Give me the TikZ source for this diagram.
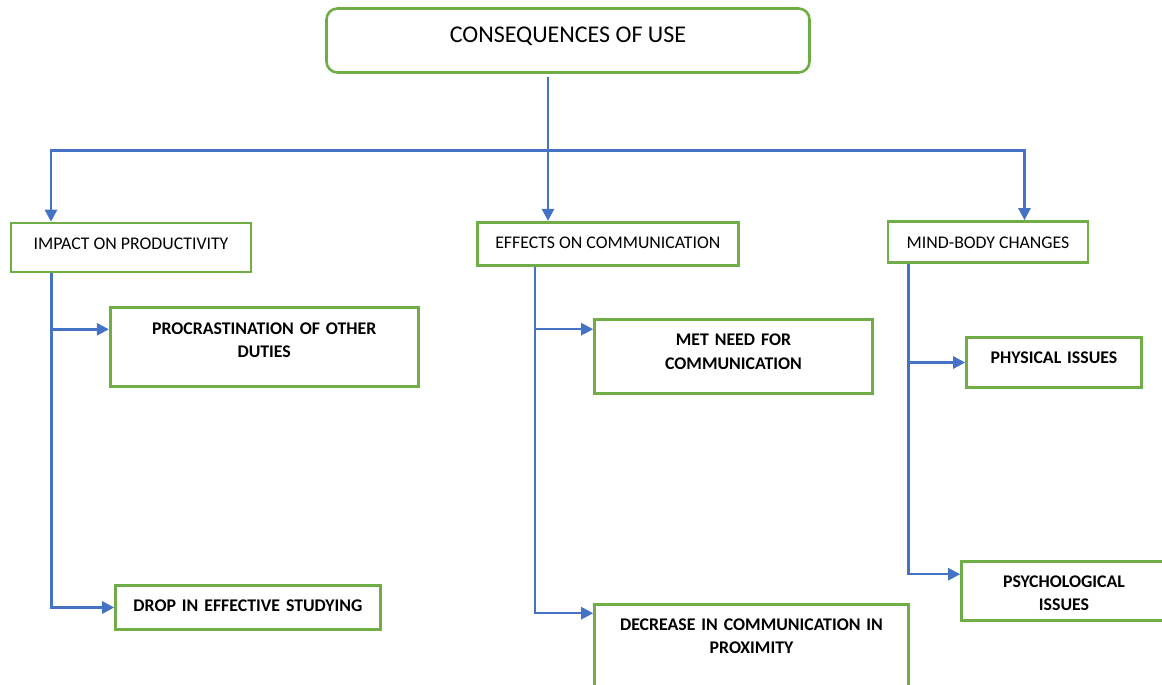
\documentclass[tikz,border=0pt]{standalone}
\usepackage{xcolor}
\usepackage{fontspec}
\setmainfont{Carlito}
\usepackage{tikz}
\usetikzlibrary{positioning,arrows.meta,calc}

\definecolor{linkblue}{HTML}{4472C4}
\definecolor{boxgreen}{HTML}{70AD47}

\begin{document}
\begin{tikzpicture}[x=1pt, y=-1pt,
    >={Triangle[length=12pt,width=12pt]},
    box/.style={draw=boxgreen, line width=2.6pt, inner sep=0pt, text=black},
    topbox/.style={box, rounded corners=11pt, font=\fontsize{24}{29}\selectfont, text height=15.5pt, text depth=11pt},
    headbox/.style={box, font=\fontsize{17.8}{23.5}\selectfont, text height=11.5pt, text depth=2.3pt},
    itembox/.style={box, font=\fontsize{17.8}{23.5}\selectfont\bfseries, align=center, text height=11.5pt},
    link/.style={linkblue, line width=2.5pt}]
    \useasboundingbox (0,0) rectangle (1162,685);

    % top box
    \node[topbox, minimum width=483pt, minimum height=64pt] (cons) at (568,40.5) {CONSEQUENCES OF USE};

    % second row
    \node[headbox, minimum width=240pt, minimum height=49pt, text depth=8pt] (impact) at (131,247.5) {IMPACT ON PRODUCTIVITY};
    \node[headbox, minimum width=261pt, minimum height=43pt] (effects) at (607.8,243.7) {EFFECTS ON COMMUNICATION};
    \node[headbox, minimum width=200pt, minimum height=41pt, text height=12.5pt, text depth=0pt] (mind) at (988,242) {MIND-BODY CHANGES};

    % third row
    \node[itembox, text width=298pt, minimum width=308pt, minimum height=79pt, text depth=37.7pt] (proc) at (264.2,347.1) {PROCRASTINATION OF OTHER\\DUTIES};
    \node[itembox, text width=255pt, minimum width=265pt, minimum height=44pt, text depth=3.1pt] (drop) at (248,607.5) {DROP IN EFFECTIVE STUDYING};
    \node[itembox, text width=268pt, minimum width=278pt, minimum height=74pt, text depth=33.1pt] (met) at (733.5,356.5) {MET NEED FOR\\COMMUNICATION};
    \node[itembox, text width=304pt, minimum width=314pt, minimum height=95.5pt, text depth=56pt] (decrease) at (751.5,652.25) {DECREASE IN COMMUNICATION IN\\PROXIMITY};
    \node[itembox, text width=165pt, minimum width=175pt, minimum height=50pt, text depth=9.9pt] (phys) at (1054,362.5) {PHYSICAL ISSUES};
    \node[itembox, text width=195pt, minimum width=205pt, minimum height=59pt, text depth=18.9pt] (psych) at (1064,591) {PSYCHOLOGICAL\\ISSUES};

    % trunk
    \coordinate (hub) at (548,150.7);
    \coordinate (lefthub) at (51,150.7);
    \coordinate (righthub) at (1024.5,150.7);
    \draw[link] ($(cons.south -| hub)+(0,3)$) -- (hub);
    \draw[link,->] (hub) -- (lefthub) -- (lefthub |- impact.north);
    \draw[link,->] (hub) -- (hub |- effects.north);
    \draw[link,->] (hub) -- (righthub) -- (righthub |- mind.north);

    % branches
    \draw[link,->] ([xshift=42pt]impact.south west) |- ([yshift=-23pt]proc.north west);
    \draw[link,->] ([xshift=42pt]impact.south west) |- (drop.west);
    \draw[link,->] ([xshift=59pt]effects.south west) |- ([yshift=-11pt]met.north west);
    \draw[link,->] ([xshift=59pt]effects.south west) |- ([yshift=-10pt]decrease.north west);
    \draw[link,->] ([xshift=21.8pt]mind.south west) |- (phys.west);
    \draw[link,->] ([xshift=21.8pt]mind.south west) |- ([yshift=-14pt]psych.north west);
\end{tikzpicture}
\end{document}
